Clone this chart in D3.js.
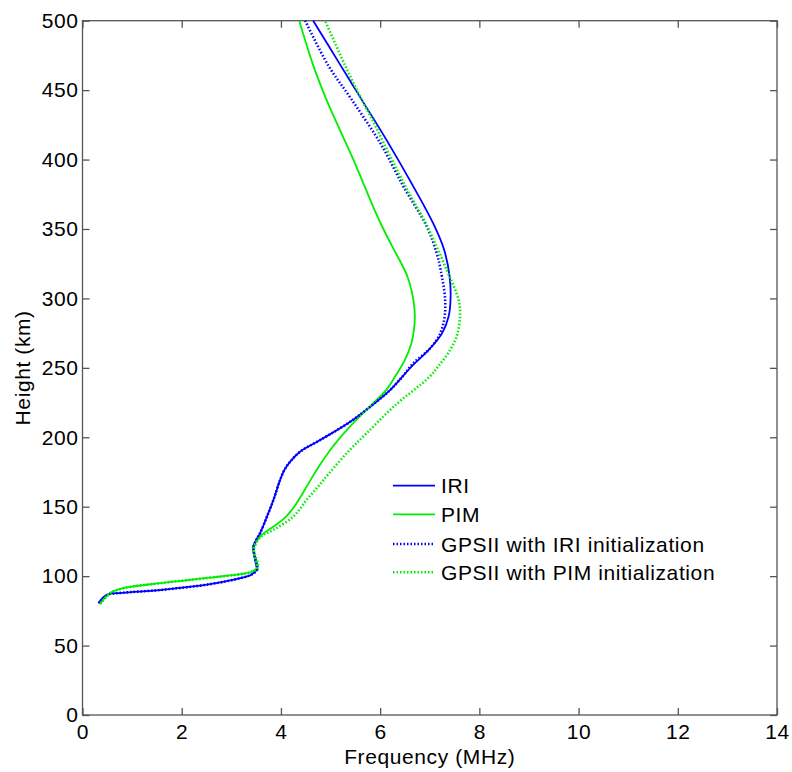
<!DOCTYPE html>
<html><head><meta charset="utf-8">
<script src="https://cdn.jsdelivr.net/npm/d3@7"></script>
<style>body{margin:0;background:#fff}svg{display:block}text{font-family:"Liberation Sans",Arial,sans-serif;fill:#000}</style>
</head><body>
<svg id="c" width="792" height="772"></svg>
<script>
// Heights (km) and frequencies (MHz)
const iriH = [80.5,86.5,88,90,94.2,98.5,101,104.5,108,113,121,126,131,143,155,169,176.5,183,189.7,198,211,222,234,243.7,252,260,267,275,287,300,315.8,335,354,385,414,443,468,500];
const iriF = [0.32,0.49,0.8,1.56,2.57,3.18,3.4,3.51,3.5,3.47,3.44,3.5,3.58,3.72,3.85,3.98,4.07,4.2,4.39,4.79,5.39,5.8,6.2,6.45,6.66,6.9,7.08,7.25,7.38,7.42,7.4,7.29,7.07,6.6,6.13,5.63,5.2,4.65];

const pimH = [80,87.7,91.3,94.9,98.9,101.4,103,105.7,110,115,120,128.5,135.7,141,147.7,155,167,176.5,193,207.7,224.6,234,243.7,255.8,267.8,277,287,296.6,306,315.8,325,335,351.8,366,383,400,443,468,500];
const pimF = [0.35,0.55,0.82,1.56,2.57,3.18,3.4,3.51,3.5,3.46,3.44,3.58,3.85,4.05,4.22,4.36,4.56,4.72,5.04,5.39,5.86,6.12,6.3,6.5,6.63,6.68,6.7,6.68,6.63,6.55,6.43,6.28,6.04,5.86,5.66,5.46,4.92,4.65,4.37];

const gIriH = [80.5,86.5,88,90,94.2,98.5,101,104.5,108,113,121,126,131,143,155,169,176.5,183,189.7,198,211,222,234,243.7,253.4,263,272.5,284.6,299,320.6,332.6,351.8,380.6,412,443,468,500];
const gIriF = [0.33,0.5,0.8,1.56,2.57,3.18,3.4,3.52,3.52,3.48,3.45,3.5,3.58,3.72,3.85,3.98,4.07,4.2,4.39,4.79,5.39,5.8,6.2,6.45,6.67,6.98,7.18,7.29,7.31,7.22,7.14,6.94,6.47,6.0,5.43,4.95,4.49];

const gPimH = [80,87.7,91.3,94.9,98.9,101.4,103,105.7,110,115,120,128.5,133.3,142.9,155,165,174,191,203,222,243.7,251,260.6,272.5,287,299,320.6,351.8,380,412,427.5,443,468,500];
const gPimF = [0.36,0.56,0.82,1.56,2.57,3.18,3.4,3.53,3.53,3.48,3.46,3.6,3.85,4.25,4.52,4.76,4.97,5.39,5.73,6.27,7.0,7.17,7.37,7.54,7.61,7.58,7.34,6.95,6.52,6.07,5.86,5.63,5.29,4.89];

const xTicks = [0,2,4,6,8,10,12,14];
const yTicks = [0,50,100,150,200,250,300,350,400,450,500];
const seriesNames = ["IRI","PIM","GPSII with IRI initialization","GPSII with PIM initialization"];

const series = [
  {name: seriesNames[0], h: iriH, f: iriF, color: "#0000ff", dash: null},
  {name: seriesNames[1], h: pimH, f: pimF, color: "#00ee00", dash: null},
  {name: seriesNames[2], h: gIriH, f: gIriF, color: "#0000ff", dash: "1.5,2"},
  {name: seriesNames[3], h: gPimH, f: gPimF, color: "#00ee00", dash: "1.5,2"}
];

const L = 82.5, R = 777, T = 20.7, B = 715;
const svg = d3.select("#c");
const x = d3.scaleLinear().domain([0,14]).range([L,R]);
const y = d3.scaleLinear().domain([0,500]).range([B,T]);
const axisColor = "#555";
const fs = 21, ls = "0.6px";

// box
svg.append("rect").attr("x",L).attr("y",T).attr("width",R-L).attr("height",B-T)
  .attr("fill","none").attr("stroke",axisColor).attr("stroke-width",1.3);

// axes with inward ticks
const gx = svg.append("g").attr("transform",`translate(0,${B})`)
  .call(d3.axisBottom(x).tickValues(xTicks).tickSizeInner(-7).tickSizeOuter(0).tickPadding(9));
const gxt = svg.append("g").attr("transform",`translate(0,${T})`)
  .call(d3.axisTop(x).tickValues(xTicks).tickSizeInner(-7).tickSizeOuter(0).tickFormat(""));
const gy = svg.append("g").attr("transform",`translate(${L},0)`)
  .call(d3.axisLeft(y).tickValues(yTicks).tickSizeInner(-7).tickSizeOuter(0).tickPadding(4));
const gyr = svg.append("g").attr("transform",`translate(${R},0)`)
  .call(d3.axisRight(y).tickValues(yTicks).tickSizeInner(-7).tickSizeOuter(0).tickFormat(""));
[gx,gxt,gy,gyr].forEach(g=>{
  g.select(".domain").remove();
  g.selectAll("line").attr("stroke",axisColor).attr("stroke-width",1.3);
  g.selectAll("text").attr("font-size",fs).attr("letter-spacing",ls)
    .attr("font-family","Liberation Sans, Arial, sans-serif").attr("fill","#000");
});

// axis titles
svg.append("text").attr("x",(L+R)/2).attr("y",764).attr("text-anchor","middle")
  .attr("font-size",fs).attr("letter-spacing",ls).text("Frequency (MHz)");
svg.append("text").attr("transform",`translate(30,${(T+B)/2}) rotate(-90)`).attr("text-anchor","middle")
  .attr("font-size",fs).attr("letter-spacing",ls).text("Height (km)");

// curves
const line = d3.line().x(d=>x(d[1])).y(d=>y(d[0])).curve(d3.curveCatmullRom.alpha(0.5));
series.forEach(s=>{
  const pts = s.h.map((h,i)=>[h,s.f[i]]);
  const p = svg.append("path").datum(pts).attr("d",line)
    .attr("fill","none").attr("stroke",s.color).attr("stroke-width",s.dash?2.6:1.8);
  if(s.dash) p.attr("stroke-dasharray",s.dash);
});

// legend
const legY = [485.7,514.3,544,572.3];
series.forEach((s,i)=>{
  const l = svg.append("line").attr("x1",393).attr("x2",435).attr("y1",legY[i]).attr("y2",legY[i])
    .attr("stroke",s.color).attr("stroke-width",s.dash?2.6:1.8);
  if(s.dash) l.attr("stroke-dasharray",s.dash);
  svg.append("text").attr("x",441).attr("y",legY[i]+7.5).attr("font-size",fs)
    .attr("letter-spacing",ls).text(s.name);
});
</script>
</body></html>
